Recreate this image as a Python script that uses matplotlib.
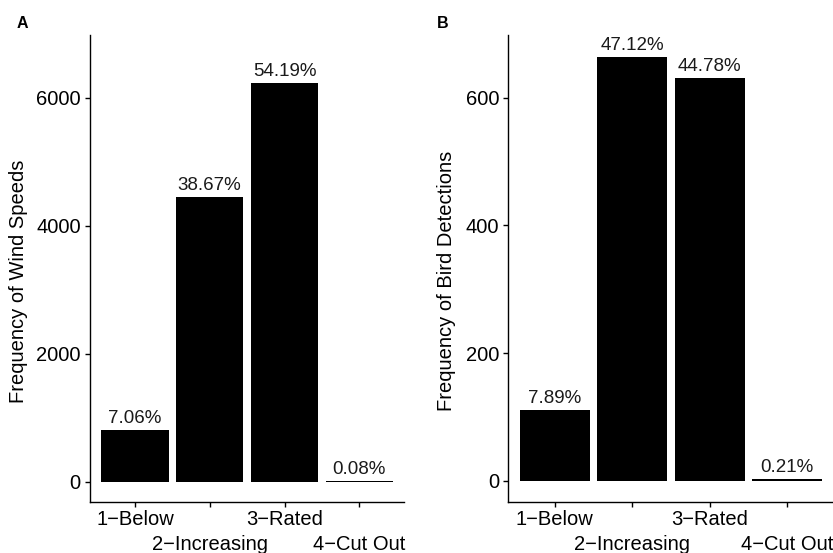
import matplotlib
matplotlib.use('Agg')
import matplotlib.pyplot as plt
import numpy as np

plt.rcParams['font.family'] = ['Liberation Sans', 'DejaVu Sans']

categories = ['1\u2212Below', '2\u2212Increasing', '3\u2212Rated', '4\u2212Cut Out']
wind_counts = [812, 4449, 6234, 9]
wind_pct = ['7.06%', '38.67%', '54.19%', '0.08%']
bird_counts = [111, 664, 631, 3]
bird_pct = ['7.89%', '47.12%', '44.78%', '0.21%']

W, H = 833, 553
fig = plt.figure(figsize=(W / 100, H / 100), dpi=100)

def panel(rect, counts, pct, ylabel, ylim, yticks, letter, letter_x, label_x):
    ax = fig.add_axes(rect)
    x = np.arange(1, len(categories) + 1)
    ax.bar(x, counts, width=0.9, color='black', edgecolor='none')
    for xi, c, p in zip(x, counts, pct):
        ax.annotate(p, (xi, c), xytext=(0, 5), textcoords='offset points',
                    ha='center', va='baseline', fontsize=13.5, color='#1a1a1a')
    ax.set_xlim(0.4, 4.6)
    ax.set_ylim(*ylim)
    ax.set_yticks(yticks)
    # staggered category labels: odd ones on major ticks, even ones on minor ticks further down
    ax.set_xticks(x[::2])
    ax.set_xticklabels(categories[::2])
    ax.set_xticks(x[1::2], minor=True)
    ax.set_xticklabels(categories[1::2], minor=True)
    for s in ['top', 'right']:
        ax.spines[s].set_visible(False)
    for s in ['left', 'bottom']:
        ax.spines[s].set_linewidth(1.0)
    ax.tick_params(axis='both', which='both', length=3.6, width=1.0, labelsize=14.5, colors='black')
    ax.tick_params(axis='y', pad=3)
    ax.tick_params(axis='x', which='major', pad=2)
    ax.tick_params(axis='x', which='minor', pad=20)
    ax.set_ylabel(ylabel, fontsize=14.5, va='center')
    ax.yaxis.set_label_coords((label_x - rect[0] * W) / (rect[2] * W), 0.473)
    fig.text(letter_x / W, 1 - 28 / H, letter, fontsize=11.5, weight='bold', va='baseline')
    return ax

axA = panel([90 / W, 51 / H, 314.2 / W, 467 / H], wind_counts, wind_pct,
            'Frequency of Wind Speeds', (-317, 6980), [0, 2000, 4000, 6000], 'A', 17, 19)
axB = panel([508.3 / W, 51 / H, 325.4 / W, 467 / H], bird_counts, bird_pct,
            'Frequency of Bird Detections', (-33, 698), [0, 200, 400, 600], 'B', 437, 446)

fig.savefig('out.png', dpi=100)
